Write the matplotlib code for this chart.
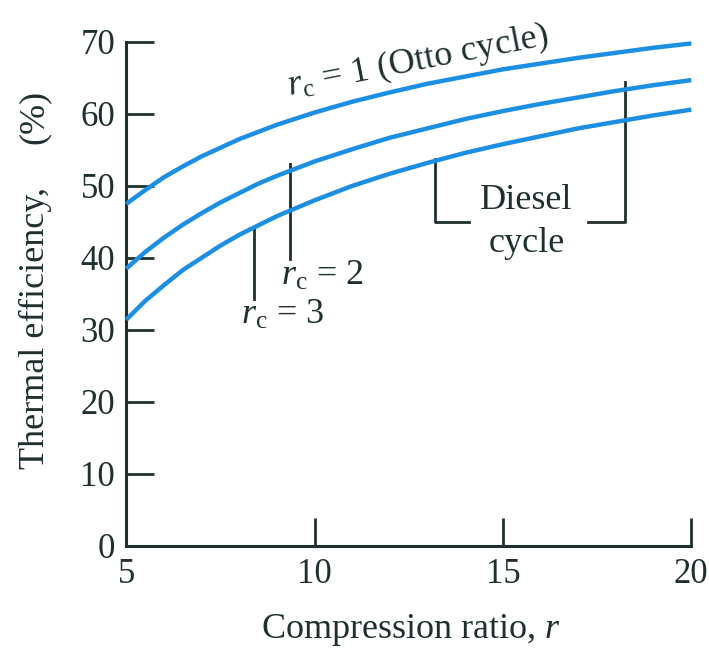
import matplotlib.pyplot as plt

plt.rcParams['font.family'] = ['Liberation Serif', 'DejaVu Serif']
plt.rcParams['mathtext.fontset'] = 'custom'
plt.rcParams['mathtext.rm'] = 'Liberation Serif'
plt.rcParams['mathtext.it'] = 'Liberation Serif:italic'

# compression ratio and thermal efficiency (%)
r = [5, 5.5, 6, 6.5, 7, 7.5, 8, 8.5, 9, 10, 11, 12, 13, 14, 15, 16, 17, 18, 19, 20]
eff_rc1 = [47.5, 49.4, 51.2, 52.7, 54.1, 55.3, 56.5, 57.5, 58.5, 60.2, 61.7, 63.0, 64.2,
           65.2, 66.2, 67.0, 67.8, 68.5, 69.2, 69.8]
eff_rc2 = [38.5, 40.8, 42.8, 44.6, 46.2, 47.7, 49.0, 50.3, 51.4, 53.4, 55.1, 56.7, 58.0,
           59.3, 60.4, 61.4, 62.3, 63.2, 64.0, 64.7]
eff_rc3 = [31.4, 34.0, 36.2, 38.3, 40.0, 41.7, 43.2, 44.5, 45.8, 48.0, 50.0, 51.7, 53.2,
           54.6, 55.8, 56.9, 58.0, 58.9, 59.8, 60.6]

xticks = [5, 10, 15, 20]
yticks = [0, 10, 20, 30, 40, 50, 60, 70]

blue = '#1c8fe3'
dark = '#1f2f2f'

fig = plt.figure(figsize=(7.09, 6.52), dpi=100)
ax = fig.add_axes([0.178, 0.163, 0.797, 0.7726])

for eff in (eff_rc1, eff_rc2, eff_rc3):
    ax.plot(r, eff, color=blue, lw=3.2, solid_capstyle='butt', clip_on=False, zorder=3)

ax.set_xlim(5, 20)
ax.set_ylim(0, 70)
ax.set_xticks(xticks)
ax.set_yticks(yticks)
ax.spines['top'].set_visible(False)
ax.spines['right'].set_visible(False)
for s in ('left', 'bottom'):
    ax.spines[s].set_linewidth(2.2)
    ax.spines[s].set_color(dark)
ax.tick_params(direction='in', length=20, width=2.0, color=dark, labelsize=25, labelcolor=dark)
ax.tick_params(axis='y', pad=8)
ax.tick_params(axis='x', pad=9)

# labels along the curves
ax.text(12.75, 67.3, r'$r_{\rm c}$ = 1 (Otto cycle)', fontsize=26, color=dark,
        rotation=11, ha='center', va='center', rotation_mode='anchor')

ax.plot([9.34, 9.34], [53.1, 39.9], color=dark, lw=2.0)
ax.text(9.1, 37.4, r'$r_{\rm c}$ = 2', fontsize=26, color=dark, ha='left', va='center')
ax.plot([8.39, 8.39], [44.3, 34.3], color=dark, lw=2.0)
ax.text(8.05, 32.0, r'$r_{\rm c}$ = 3', fontsize=26, color=dark, ha='left', va='center')

# Diesel cycle bracket
ax.plot([13.2, 13.2, 14.1], [53.7, 45.0, 45.0], color=dark, lw=2.0)
ax.plot([17.25, 18.23, 18.23], [45.0, 45.0, 64.5], color=dark, lw=2.0)
ax.text(15.63, 48.0, 'Diesel', fontsize=26, color=dark, ha='center', va='center')
ax.text(15.63, 42.0, 'cycle', fontsize=26, color=dark, ha='center', va='center')

fig.text(411 / 709, 1 - 630 / 652, r'Compression ratio, $r$', fontsize=26, color=dark,
         ha='center', va='center')
fig.text(35 / 709, 1 - 328 / 652, 'Thermal efficiency,', fontsize=26, color=dark,
         rotation=90, ha='center', va='center')
fig.text(34 / 709, 1 - 117 / 652, '(%)', fontsize=26, color=dark,
         rotation=90, ha='center', va='center')

fig.savefig('out.png', dpi=100)
